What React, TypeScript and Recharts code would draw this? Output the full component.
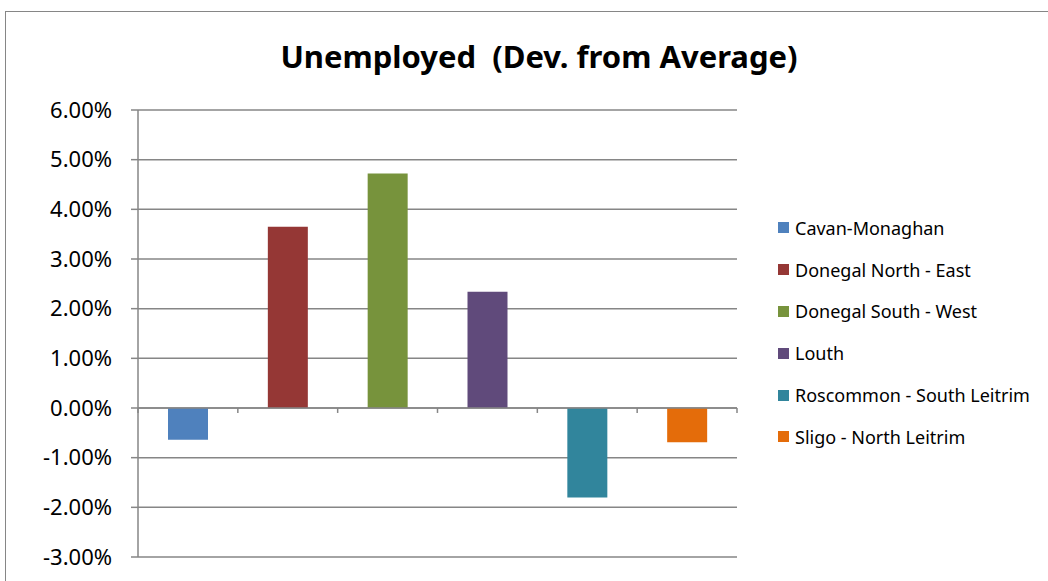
import { BarChart, Bar, Cell, XAxis, YAxis, CartesianGrid, ReferenceLine } from 'recharts'

const regions = [
  'Cavan-Monaghan',
  'Donegal North - East',
  'Donegal South - West',
  'Louth',
  'Roscommon - South Leitrim',
  'Sligo - North Leitrim',
]
const deviation = [-0.64, 3.65, 4.72, 2.34, -1.8, -0.69]
const colors = ['#4F81BD', '#953735', '#77933C', '#604A7B', '#31859C', '#E46C0A']
const yTicks = [-3, -2, -1, 0, 1, 2, 3, 4, 5, 6]
const boundaries = [0, 1, 2, 3, 4, 5, 6]

const GRID = '#868686'
const FONT = '"Noto Sans", "Open Sans", sans-serif'

const data = regions.map((name, i) => ({ name, pos: i + 0.5, value: deviation[i] }))

export default function App() {
  return (
    <div
      style={{
        position: 'fixed',
        left: 0,
        top: 0,
        width: 1048,
        height: 581,
        overflow: 'hidden',
        background: '#fff',
        fontFamily: FONT,
      }}
    >
      <div
        style={{
          position: 'absolute',
          left: 5,
          top: 11,
          width: 1100,
          height: 620,
          border: `1.5px solid ${GRID}`,
        }}
      />
      <div
        style={{
          position: 'absolute',
          left: 0,
          width: 1078,
          top: 34,
          textAlign: 'center',
          fontSize: 31,
          lineHeight: '44px',
          fontWeight: 700,
          color: '#000',
          whiteSpace: 'pre',
        }}
      >
        {'Unemployed  (Dev. from Average)'}
      </div>
      <div style={{ position: 'absolute', left: 0, top: 0 }}>
        <BarChart
          width={1048}
          height={581}
          data={data}
          margin={{ top: 110, right: 311, bottom: 24, left: 0 }}
        >
          <CartesianGrid vertical={false} stroke={GRID} strokeWidth={1.5} />
          <XAxis type="number" dataKey="pos" domain={[0, 6]} hide />
          <YAxis
            domain={[-3, 6]}
            ticks={yTicks}
            interval={0}
            width={138}
            tickFormatter={(v: number) => `${v.toFixed(2)}%`}
            tick={{ fontSize: 22, fill: '#000', fontFamily: FONT }}
            tickSize={7}
            tickMargin={19}
            tickLine={{ stroke: GRID, strokeWidth: 1.5 }}
            axisLine={{ stroke: GRID, strokeWidth: 1.5 }}
          />
          <Bar dataKey="value" barSize={40} isAnimationActive={false}>
            {data.map((d, i) => (
              <Cell key={d.name} fill={colors[i]} />
            ))}
          </Bar>
          <ReferenceLine y={0} stroke={GRID} strokeWidth={1.5} />
          {boundaries.map((b) => (
            <ReferenceLine
              key={b}
              segment={[
                { x: b, y: 0 },
                { x: b, y: -0.1 },
              ]}
              stroke={GRID}
              strokeWidth={1.5}
            />
          ))}
        </BarChart>
      </div>
      <div style={{ position: 'absolute', left: 778, top: 207 }}>
        {regions.map((name, i) => (
          <div
            key={name}
            style={{ display: 'flex', alignItems: 'center', height: 41.8, fontSize: 18, color: '#000' }}
          >
            <span
              style={{ width: 11, height: 11, background: colors[i], marginRight: 6, display: 'inline-block' }}
            />
            {name}
          </div>
        ))}
      </div>
    </div>
  )
}
